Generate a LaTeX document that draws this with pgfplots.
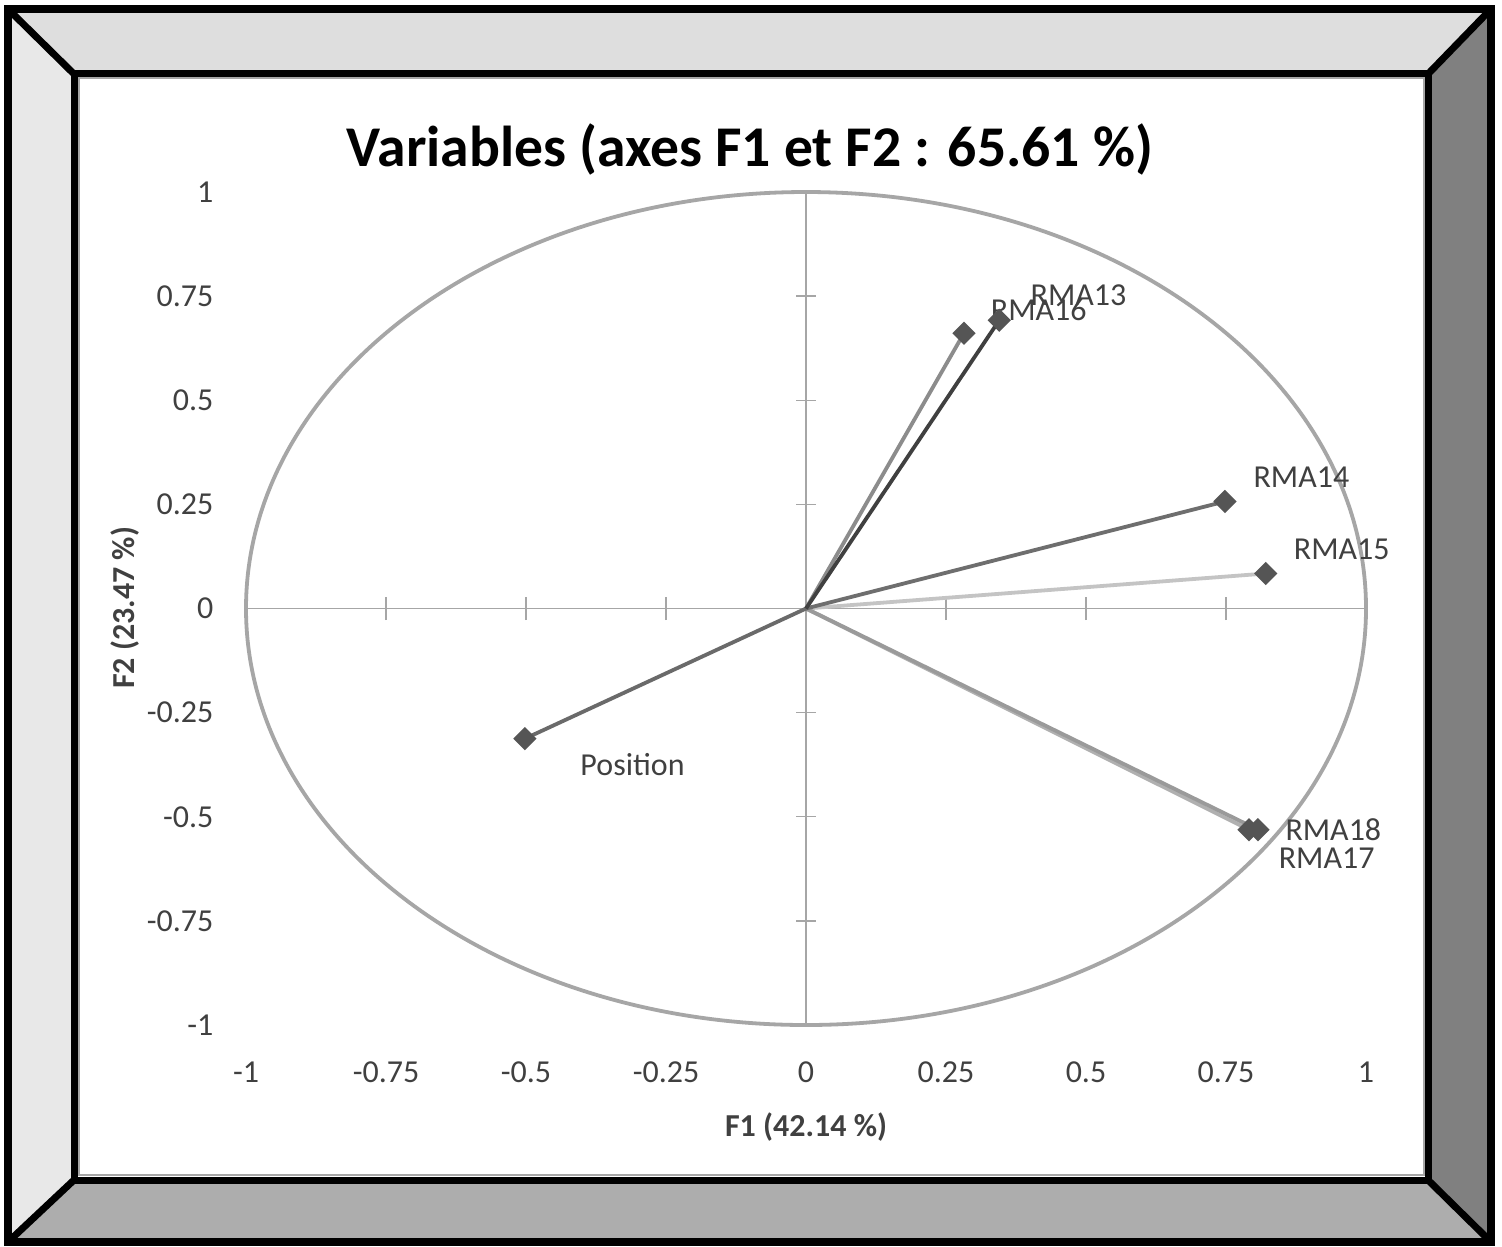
\documentclass[border=0pt]{standalone}
\usepackage{fontspec}
\setmainfont{Carlito}
\usepackage{pgfplots}
\pgfplotsset{compat=1.18}
\definecolor{axgray}{HTML}{A6A6A6}
\definecolor{mk}{HTML}{555555}
\definecolor{cA}{HTML}{404040}
\definecolor{cB}{HTML}{8C8C8C}
\definecolor{cC}{HTML}{6E6E6E}
\definecolor{cD}{HTML}{C4C4C4}
\definecolor{cE}{HTML}{B0B0B0}
\definecolor{cF}{HTML}{9A9A9A}
\definecolor{cG}{HTML}{6A6A6A}
\definecolor{bevT}{HTML}{DEDEDE}
\definecolor{bevL}{HTML}{E8E8E8}
\definecolor{bevR}{HTML}{808080}
\definecolor{bevB}{HTML}{ADADAD}
\begin{document}
\begin{tikzpicture}
\useasboundingbox (0,0) rectangle (15.02,12.46);
% frame
\coordinate (OTL) at (0.08,12.37);
\coordinate (OTR) at (14.91,12.37);
\coordinate (OBL) at (0.08,0.04);
\coordinate (OBR) at (14.91,0.04);
\coordinate (ITL) at (0.74,11.72);
\coordinate (ITR) at (14.28,11.72);
\coordinate (IBL) at (0.74,0.66);
\coordinate (IBR) at (14.28,0.66);
\fill[bevT] (OTL) -- (OTR) -- (ITR) -- (ITL) -- cycle;
\fill[bevL] (OTL) -- (ITL) -- (IBL) -- (OBL) -- cycle;
\fill[bevR] (OTR) -- (ITR) -- (IBR) -- (OBR) -- cycle;
\fill[bevB] (OBL) -- (IBL) -- (IBR) -- (OBR) -- cycle;
\fill[white] (ITL) rectangle (IBR);
\draw[axgray, line width=0.02cm] (0.79,0.71) rectangle (14.235,11.675);
\draw[black, line width=0.075cm, line join=miter] (OTL) rectangle (OBR);
\draw[black, line width=0.07cm, line join=miter] (ITL) rectangle (IBR);
\draw[black, line width=0.07cm] (OTL) -- (ITL) (OTR) -- (ITR) (OBL) -- (IBL) (OBR) -- (IBR);
\begin{axis}[
  at={(2.46cm,2.21cm)}, anchor=south west,
  scale only axis, width=11.2cm, height=8.33cm,
  xmin=-1, xmax=1, ymin=-1, ymax=1,
  clip=false,
  axis line style={draw=none},
  major tick length=0pt,
  tick style={draw=none},
  xtick={-1,-0.75,-0.5,-0.25,0,0.25,0.5,0.75,1},
  ytick={-1,-0.75,-0.5,-0.25,0,0.25,0.5,0.75,1},
  xticklabels={-1,-0.75,-0.5,-0.25,0,0.25,0.5,0.75,1},
  yticklabels={-1,-0.75,-0.5,-0.25,0,0.25,0.5,0.75,1},
  ticklabel style={font=\fontsize{9.1pt}{11pt}\selectfont, text=cA},
  xticklabel style={inner sep=0pt, anchor=north},
  yticklabel style={inner sep=0pt, anchor=east},
  xticklabel shift=0.36cm,
  yticklabel shift=0.32cm,
  /pgf/number format/assume math mode=true,
]
% centre lines with cross ticks
\draw[axgray, line width=0.013cm] (axis cs:-1,0) -- (axis cs:1,0);
\draw[axgray, line width=0.013cm] (axis cs:0,-1) -- (axis cs:0,1);
\pgfplotsinvokeforeach{-1,-0.75,-0.5,-0.25,0.25,0.5,0.75,1}{
  \draw[axgray, line width=0.013cm] ([yshift=-0.115cm]axis cs:#1,0) -- ([yshift=0.115cm]axis cs:#1,0);
  \draw[axgray, line width=0.013cm] ([xshift=-0.1cm]axis cs:0,#1) -- ([xshift=0.1cm]axis cs:0,#1);
}
% correlation circle
\draw[axgray, line width=0.038cm] (axis cs:0,0) ellipse [x radius=1, y radius=1];
% vectors
\addplot[cD, line width=0.038cm, mark=square*, mark indices={2}, mark options={fill=mk, draw=mk, rotate=45, solid}, mark size=1.8pt] coordinates {(0,0) (0.821,0.084)};
\addplot[cE, line width=0.038cm, mark=square*, mark indices={2}, mark options={fill=mk, draw=mk, rotate=45, solid}, mark size=1.8pt] coordinates {(0,0) (0.791,-0.531)};
\addplot[cF, line width=0.038cm, mark=square*, mark indices={2}, mark options={fill=mk, draw=mk, rotate=45, solid}, mark size=1.8pt] coordinates {(0,0) (0.807,-0.531)};
\addplot[cB, line width=0.038cm, mark=square*, mark indices={2}, mark options={fill=mk, draw=mk, rotate=45, solid}, mark size=1.8pt] coordinates {(0,0) (0.282,0.661)};
\addplot[cC, line width=0.038cm, mark=square*, mark indices={2}, mark options={fill=mk, draw=mk, rotate=45, solid}, mark size=1.8pt] coordinates {(0,0) (0.748,0.257)};
\addplot[cG, line width=0.038cm, mark=square*, mark indices={2}, mark options={fill=mk, draw=mk, rotate=45, solid}, mark size=1.8pt] coordinates {(0,0) (-0.502,-0.3125)};
\addplot[cA, line width=0.038cm, mark=square*, mark indices={2}, mark options={fill=mk, draw=mk, rotate=45, solid}, mark size=1.8pt] coordinates {(0,0) (0.345,0.692)};
% data labels
\begin{scope}[every node/.style={anchor=west, inner sep=0pt, text=cA, font=\fontsize{9.1pt}{11pt}\selectfont}]
\node at (axis cs:0.400,0.752) {RMA13};
\node at (axis cs:0.329,0.716) {RMA16};
\node at (axis cs:0.798,0.315) {RMA14};
\node at (axis cs:0.870,0.142) {RMA15};
\node at (axis cs:0.855,-0.531) {RMA18};
\node at (axis cs:0.843,-0.599) {RMA17};
\node at (axis cs:-0.404,-0.375) {Position};
\end{scope}
\end{axis}
% titles
\node[anchor=base, inner sep=0pt, font=\fontsize{16.4pt}{19pt}\selectfont\bfseries] at (7.50,10.79) {Variables (axes F1 et F2 : 65.61 \%)};
\node[anchor=center, inner sep=0pt, font=\fontsize{9.1pt}{11pt}\selectfont\bfseries, text=cA] at (8.06,1.19) {F1 (42.14 \%)};
\node[anchor=center, inner sep=0pt, rotate=90, font=\fontsize{9.1pt}{11pt}\selectfont\bfseries, text=cA] at (1.25,6.38) {F2 (23.47 \%)};
\end{tikzpicture}
\end{document}
